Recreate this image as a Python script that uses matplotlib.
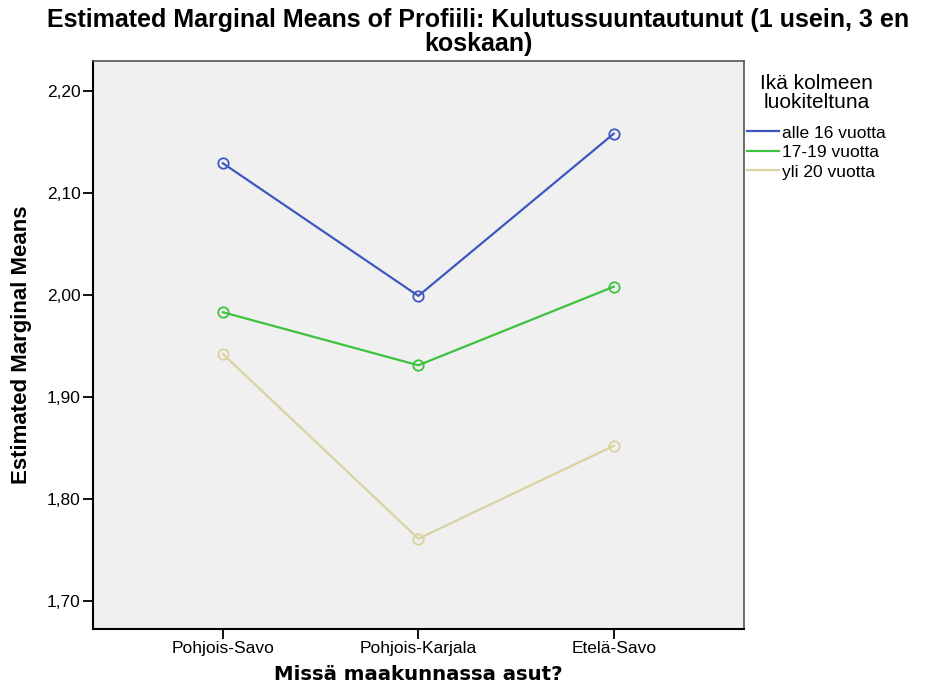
import matplotlib
matplotlib.use("Agg")
import matplotlib.pyplot as plt
from matplotlib.lines import Line2D

plt.rcParams['font.family'] = ['Liberation Sans', 'DejaVu Sans']

regions = ["Pohjois-Savo", "Pohjois-Karjala", "Etelä-Savo"]
groups = ["alle 16 vuotta", "17-19 vuotta", "yli 20 vuotta"]
means = {
    "alle 16 vuotta": [2.129, 1.999, 2.158],
    "17-19 vuotta": [1.983, 1.931, 2.008],
    "yli 20 vuotta": [1.942, 1.761, 1.852],
}
colors = ["#3E58C0", "#3DC23F", "#D8D3A0"]
yticks = [1.70, 1.80, 1.90, 2.00, 2.10, 2.20]

fig = plt.figure(figsize=(9.43, 6.94), dpi=100)
ax = fig.add_axes([0.0986, 0.0937, 0.690, 0.818])
ax.set_facecolor("#F0F0F0")

x = list(range(len(regions)))
for g, c in zip(groups, colors):
    ax.plot(x, means[g], color=c, linewidth=1.6, marker="o", markersize=7.5,
            markerfacecolor="none", markeredgecolor=c, markeredgewidth=1.3)

ax.set_xlim(-0.665, 2.665)
ax.set_ylim(1.6725, 2.229)
ax.set_xticks(x)
ax.set_xticklabels(regions, fontsize=12.5)
ax.set_yticks(yticks)
ax.set_yticklabels([f"{v:.2f}".replace(".", ",") for v in yticks], fontsize=12.5)
ax.tick_params(direction="out", length=7, width=1.3, colors="black", pad=2)

for s in ["left", "bottom"]:
    ax.spines[s].set_linewidth(1.5)
    ax.spines[s].set_color("black")
for s in ["top", "right"]:
    ax.spines[s].set_linewidth(1.2)
    ax.spines[s].set_color("#555555")

ax.set_xlabel("Missä maakunnassa asut?", fontsize=14.2, fontweight="bold",
              family="DejaVu Sans")
ax.xaxis.set_label_coords(0.5, -0.064)
ax.set_ylabel("Estimated Marginal Means", fontsize=16, fontweight="bold")
ax.yaxis.set_label_coords(-0.094, 0.5)

fig.text(0.507, 0.988, "Estimated Marginal Means of Profiili: Kulutussuuntautunut (1 usein, 3 en\nkoskaan)",
         ha="center", va="top", fontsize=18, fontweight="bold", linespacing=1.0)

handles = [Line2D([0], [0], color=c, linewidth=1.6) for c in colors]
leg = fig.legend(handles, groups, title="Ikä kolmeen\nluokiteltuna", loc="upper left",
                 bbox_to_anchor=(0.792, 0.893), frameon=False, fontsize=12.5,
                 title_fontsize=15, handlelength=1.85, handletextpad=0.17,
                 labelspacing=0.25, borderaxespad=0.0, borderpad=0.0)
leg.get_title().set_multialignment("center")
leg.get_title().set_linespacing(0.95)
leg._legend_box.sep = 10

fig.savefig("out.png", dpi=100, facecolor="white")
